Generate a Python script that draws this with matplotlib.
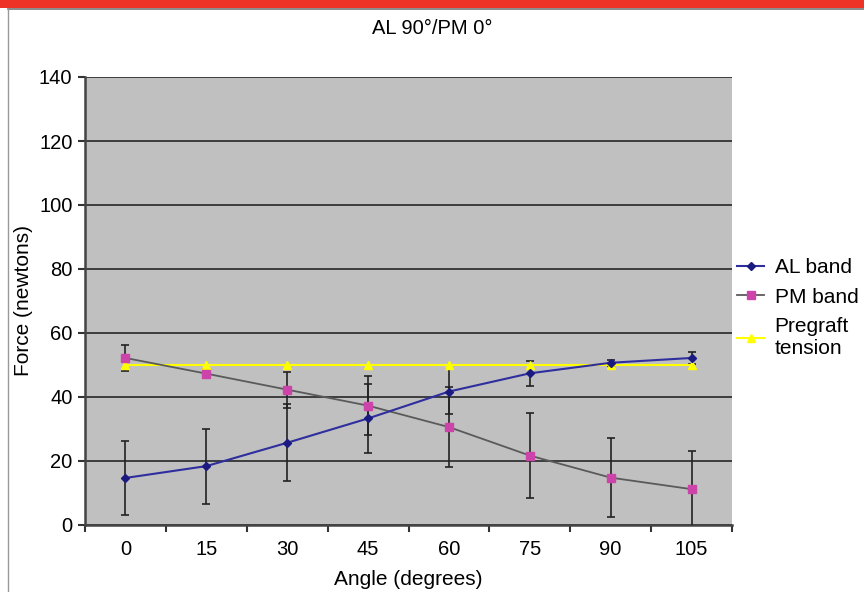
import matplotlib
matplotlib.use("Agg")
import matplotlib.pyplot as plt
from matplotlib.patches import Rectangle
from matplotlib.lines import Line2D

plt.rcParams['font.family'] = ['Liberation Sans', 'DejaVu Sans']

angles = ["0", "15", "30", "45", "60", "75", "90", "105"]
al_band = [14.7, 18.4, 25.7, 33.3, 41.7, 47.4, 50.7, 52.2]
al_err = [11.5, 11.7, 12.0, 10.7, 7.0, 4.0, 1.0, 2.0]
pm_band = [52.2, 47.3, 42.3, 37.3, 30.6, 21.7, 14.8, 11.2]
pm_err = [4.2, 1.5, 5.6, 9.2, 12.5, 13.2, 12.3, 11.8]
pregraft = [50, 50, 50, 50, 50, 50, 50, 50]
yticks = [0, 20, 40, 60, 80, 100, 120, 140]

fig = plt.figure(figsize=(8.64, 5.92), dpi=100)
fig.patch.set_facecolor('white')
# top red band and frame lines
fig.patches.append(Rectangle((0, 1 - 8/592), 1, 8/592, transform=fig.transFigure,
                             facecolor='#ee3326', edgecolor='none', zorder=0))
fig.lines.append(Line2D([8/864, 1], [1 - 9/592, 1 - 9/592], transform=fig.transFigure,
                        color='#777777', lw=1.2))
fig.lines.append(Line2D([8/864, 8/864], [0, 1 - 9/592], transform=fig.transFigure,
                        color='#999999', lw=1.0))

ax = fig.add_axes([85/864, (592-525)/592, (732-85)/864, (525-77)/592])
ax.set_facecolor('#c0c0c0')
x = list(range(len(angles)))

ax.errorbar(x, al_band, yerr=al_err, fmt='none', ecolor='#222222', elinewidth=1.2,
            capsize=3, capthick=1.2, zorder=3)
ax.errorbar(x, pm_band, yerr=pm_err, fmt='none', ecolor='#222222', elinewidth=1.2,
            capsize=3, capthick=1.2, zorder=3)
ax.plot(x, pregraft, color='#ffff00', lw=1.5, marker='^', ms=6, mfc='#ffff00',
        mec='#ffff00', label='Pregraft\ntension', zorder=4)
ax.plot(x, pm_band, color='#5a5a5a', lw=1.3, marker='s', ms=6, mfc='#cc44aa',
        mec='#cc44aa', label='PM band', zorder=5)
ax.plot(x, al_band, color='#2e2e9e', lw=1.5, marker='D', ms=4, mfc='#1a1a80',
        mec='#1a1a80', label='AL band', zorder=6)

ax.set_xlim(-0.5, 7.5)
ax.set_ylim(0, 140)
ax.set_yticks(yticks)
ax.set_yticklabels([str(v) for v in yticks], fontsize=14.5)
ax.set_xticks(x)
ax.set_xticklabels(angles, fontsize=14.5)
ax.set_xticks([i + 0.5 for i in range(-1, 8)], minor=True)
ax.tick_params(axis='x', which='major', length=0, pad=11)
ax.tick_params(axis='x', which='minor', length=5, width=1.5, color='#333333', direction='out')
ax.tick_params(axis='y', length=5, width=1.5, color='#333333', direction='out', pad=4)
ax.yaxis.grid(True, color='#333333', lw=1.3)
ax.set_axisbelow(True)
for s in ['top', 'right']:
    ax.spines[s].set_visible(False)
for s in ['left', 'bottom']:
    ax.spines[s].set_color('#444444')
    ax.spines[s].set_linewidth(1.8)

ax.set_xlabel('Angle (degrees)', fontsize=15, labelpad=8)
ax.set_ylabel('Force (newtons)', fontsize=15, labelpad=4)
fig.text(432/864, 1 - 28/592, 'AL 90°/PM 0°', ha='center', va='center', fontsize=14.5)

h, l = ax.get_legend_handles_labels()
order = [2, 1, 0]
fig.legend([h[i] for i in order], [l[i] for i in order], loc='upper left',
           bbox_to_anchor=(733/864, 1 - 254/592), frameon=False, fontsize=15,
           handlelength=1.3, handletextpad=0.5, labelspacing=0.5, borderaxespad=0,
           borderpad=0.2)

fig.savefig('out.png', dpi=100)
